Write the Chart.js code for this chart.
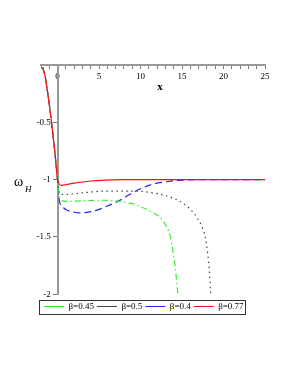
<!DOCTYPE html>
<html>
<head>
<meta charset="utf-8">
<script src="https://cdn.jsdelivr.net/npm/chart.js@4/dist/chart.umd.min.js"></script>
<style>
  body { margin: 0; background: #fff; }
  #wrap { width: 291px; height: 376px; }
</style>
</head>
<body>
<div id="wrap"><canvas id="omega-chart" width="291" height="376"></canvas></div>
<script>
// values
const leftX = [-1.8, -1.5, -1.2, -0.9, -0.6, -0.3, 0];
const leftY = [-0.02, -0.1, -0.24, -0.4, -0.58, -0.78, -1.0];

const greenX = [0.3, 1, 3, 5, 7, 8, 9, 10, 11, 12, 12.6, 13.2, 13.6, 13.9, 14.2, 14.5];
const greenY = [-1.17, -1.19, -1.185, -1.18, -1.185, -1.195, -1.21, -1.235, -1.27, -1.31, -1.35, -1.42, -1.5, -1.62, -1.78, -2.0];

const grayX = [0.3, 1, 3, 6, 9, 11, 13, 15, 16, 16.8, 17.5, 17.8, 18.1, 18.3, 18.45];
const grayY = [-1.13, -1.13, -1.115, -1.1, -1.1, -1.11, -1.14, -1.2, -1.26, -1.33, -1.43, -1.5, -1.65, -1.8, -2.0];

const blueX = [0.2, 0.5, 1, 2, 3, 4, 5, 6, 7, 8, 9, 10, 11, 12, 13, 14, 15, 17, 25];
const blueY = [-1.18, -1.23, -1.26, -1.285, -1.29, -1.28, -1.26, -1.23, -1.2, -1.16, -1.115, -1.08, -1.05, -1.03, -1.02, -1.01, -1.005, -1.0, -1.0];

const redX = [0.5, 1, 2, 4, 6, 8, 12, 25];
const redY = [-1.05, -1.045, -1.03, -1.012, -1.004, -1.0, -1.0, -1.0];

const betaLabels = ['β=0.45', 'β=0.5', 'β=0.4', 'β=0.77'];
const xTicks = [0, 5, 10, 15, 20, 25];
const yTicks = [-0.5, -1, -1.5, -2];

const pts = (xs, ys) => leftX.concat(xs).map((x, i) => ({ x, y: leftY.concat(ys)[i] }));

const serif = '"Liberation Serif", "DejaVu Serif", serif';

const overlay = {
  id: 'overlay',
  afterDraw(chart) {
    const ctx = chart.ctx;
    ctx.save();
    // legend frame
    const boxes = chart.legend.legendHitBoxes;
    if (boxes && boxes.length) {
      const l = Math.min(...boxes.map(b => b.left)) - 5;
      const r = Math.max(...boxes.map(b => b.left + b.width)) + 1;
      const mid = boxes[0].top + boxes[0].height / 2;
      ctx.strokeStyle = '#333';
      ctx.lineWidth = 1;
      ctx.strokeRect(Math.round(l) + 0.5, Math.round(mid - 7) + 0.5, Math.round(r - l), 14);
    }
    ctx.fillStyle = '#000';
    ctx.textAlign = 'center';
    ctx.textBaseline = 'middle';
    ctx.font = 'bold 11px ' + serif;
    ctx.fillText('x', 160, 87);
    ctx.textAlign = 'left';
    ctx.font = '14px ' + serif;
    ctx.fillText('ω', 14, 182);
    ctx.font = 'italic 9px ' + serif;
    ctx.fillText('H', 25, 190);
    ctx.restore();
  }
};

new Chart(document.getElementById('omega-chart'), {
  type: 'line',
  data: {
    datasets: [
      { label: betaLabels[0], data: pts(greenX, greenY), borderColor: '#33ee33', borderDash: [6, 3, 1.5, 3], order: 1 },
      { label: betaLabels[1], data: pts(grayX, grayY), borderColor: '#444444', borderDash: [1.5, 3.5], order: 2 },
      { label: betaLabels[2], data: pts(blueX, blueY), borderColor: '#2222ff', borderDash: [7, 4], order: 3 },
      { label: betaLabels[3], data: pts(redX, redY), borderColor: '#ff1111', order: 0 }
    ].map(d => Object.assign(d, { borderWidth: 1.2, pointRadius: 0, fill: false, cubicInterpolationMode: 'monotone' }))
  },
  options: {
    responsive: false,
    animation: false,
    layout: { padding: { left: 41, right: 26, top: 65, bottom: 55 } },
    scales: {
      x: {
        type: 'linear',
        position: { y: 0 },
        min: -2,
        max: 25,
        afterBuildTicks: (axis) => {
          axis.ticks = [];
          for (let v = -2; v <= 25; v++) axis.ticks.push({ value: v });
        },
        ticks: {
          autoSkip: false,
          maxRotation: 0,
          color: '#000',
          font: { family: serif, size: 9 },
          callback: (v) => xTicks.includes(v) ? String(v) : ''
        },
        grid: { drawOnChartArea: false, drawTicks: true, tickLength: 3, tickColor: '#777', tickWidth: 1 },
        border: { color: '#999', width: 2 }
      },
      y: {
        type: 'linear',
        position: { x: 0 },
        min: -2,
        max: 0,
        afterBuildTicks: (axis) => {
          axis.ticks = yTicks.map(v => ({ value: v }));
        },
        ticks: {
          color: '#000',
          font: { family: serif, size: 9 },
          callback: (v) => yTicks.includes(v) ? String(v) + '   ' : ''
        },
        grid: { drawOnChartArea: false, drawTicks: true, tickLength: 4, tickColor: '#777', tickWidth: 1 },
        border: { color: '#999', width: 2 }
      }
    },
    plugins: {
      tooltip: { enabled: false },
      legend: {
        position: 'bottom',
        align: 'start',
        title: { display: true, text: ' ', padding: 0, font: { size: 4 } },
        labels: {
          usePointStyle: true,
          pointStyle: 'line',
          pointStyleWidth: 20,
          boxHeight: 9,
          padding: 3,
          color: '#000',
          font: { family: serif, size: 9 },
          sort: (a, b) => a.datasetIndex - b.datasetIndex
        }
      }
    }
  },
  plugins: [overlay]
});
</script>
</body>
</html>
